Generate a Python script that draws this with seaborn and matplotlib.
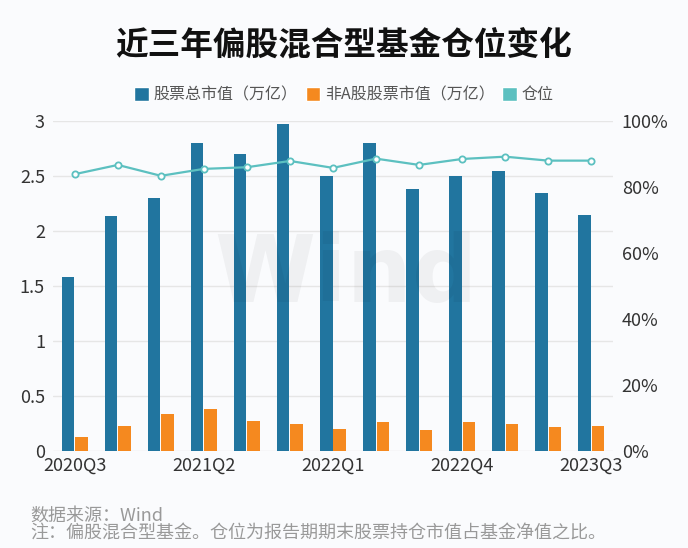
import numpy as np
import pandas as pd
import matplotlib
matplotlib.use('Agg')
import matplotlib.pyplot as plt
import seaborn as sns
from matplotlib.patches import Patch
from matplotlib.ticker import FuncFormatter, MultipleLocator

quarters = ['2020Q3', '2020Q4', '2021Q1', '2021Q2', '2021Q3', '2021Q4', '2022Q1',
            '2022Q2', '2022Q3', '2022Q4', '2023Q1', '2023Q2', '2023Q3']
total_mv = [1.58, 2.13, 2.30, 2.80, 2.70, 2.97, 2.50, 2.80, 2.38, 2.50, 2.54, 2.34, 2.14]
non_a_mv = [0.125, 0.225, 0.33, 0.38, 0.27, 0.24, 0.20, 0.26, 0.19, 0.26, 0.245, 0.215, 0.225]
position = [0.838, 0.866, 0.833, 0.854, 0.859, 0.878, 0.857, 0.885, 0.866, 0.884, 0.891, 0.879, 0.879]
series_names = ['股票总市值（万亿）', '非A股股票市值（万亿）', '仓位']
title = '近三年偏股混合型基金仓位变化'
source_note = '数据来源：Wind'
footnote = '注：偏股混合型基金。仓位为报告期期末股票持仓市值占基金净值之比。'
shown_ticks = quarters[::3]

blue = '#21759f'
orange = '#f5891f'
teal = '#5cc0c0'
bg = '#fafbfd'

sns.set_theme(style='white')
plt.rcParams['font.family'] = ['Noto Sans CJK SC', 'DejaVu Sans']

W, H = 688, 548
fig = plt.figure(figsize=(W / 100, H / 100), dpi=100, facecolor=bg)
left, right, top, bottom = 53.3, 612.7, 120.7, 450.7
ax = fig.add_axes([left / W, 1 - bottom / H, (right - left) / W, (bottom - top) / H])
ax.set_facecolor(bg)

df = pd.DataFrame({
    '季度': quarters * 2,
    '值': total_mv + non_a_mv,
    '系列': [series_names[0]] * len(quarters) + [series_names[1]] * len(quarters),
})
sns.barplot(data=df, x='季度', y='值', hue='系列', order=quarters,
            hue_order=series_names[:2], palette=[blue, orange], saturation=1,
            width=0.616, gap=0.075, errorbar=None, legend=False, linewidth=0, ax=ax)

ax2 = ax.twinx()
pos_df = pd.DataFrame({'季度': quarters, '仓位': position})
sns.pointplot(data=pos_df, x='季度', y='仓位', order=quarters, color=teal, ax=ax2,
              markers='o', errorbar=None, linewidth=1.6, markersize=4.5,
              markerfacecolor='white', markeredgecolor=teal, markeredgewidth=1.3)

ax.set_xlim(-0.5, len(quarters) - 0.5)
ax.set_ylim(0, 3)
ax2.set_ylim(0, 1)
ax.yaxis.set_major_locator(MultipleLocator(0.5))
ax.yaxis.set_major_formatter(FuncFormatter(lambda v, p: f'{v:g}'))
ax2.yaxis.set_major_locator(MultipleLocator(0.2))
ax2.yaxis.set_major_formatter(FuncFormatter(lambda v, p: f'{v * 100:.0f}%'))

ax.set_xticks([quarters.index(q) for q in shown_ticks])
ax.set_xticklabels(shown_ticks)
ax.set_xlabel('')
ax.set_ylabel('')
ax2.set_ylabel('')
ax2.set_xlabel('')

ax.yaxis.grid(True, color='#e6e6e6', linewidth=1)
ax.xaxis.grid(False)
ax.set_axisbelow(True)
for a in (ax, ax2):
    for s in a.spines.values():
        s.set_visible(False)
ax.tick_params(axis='y', length=0, labelsize=13, labelcolor='#333333', pad=6)
ax.tick_params(axis='x', length=0, labelsize=13, labelcolor='#333333', pad=4)
ax2.tick_params(axis='y', length=0, labelsize=13, labelcolor='#333333', pad=6.5)

ax.text(0.523, 0.53, 'Wind', transform=ax.transAxes, ha='center', va='center',
        fontsize=66, fontweight='bold', color='black', alpha=0.045, zorder=10,
        family=['DejaVu Sans'])

fig.text(0.5, 1 - 45 / H, title, ha='center', va='center', fontsize=23.5,
         fontweight='bold', color='#111111')

handles = [Patch(facecolor=blue), Patch(facecolor=orange), Patch(facecolor=teal)]
fig.legend(handles, series_names, loc='center', bbox_to_anchor=(0.5, 1 - 95 / H),
           ncol=3, frameon=False, fontsize=11.5, handlelength=0.9, handleheight=0.9,
           handletextpad=0.3, columnspacing=0.5, labelcolor='#555555')

fig.text(30 / W, 1 - 516 / H, source_note, ha='left', va='center', fontsize=13, color='#999999')
fig.text(30 / W, 1 - 534 / H, footnote, ha='left', va='center', fontsize=13, color='#999999')

fig.savefig('out.png', dpi=100, facecolor=bg)
